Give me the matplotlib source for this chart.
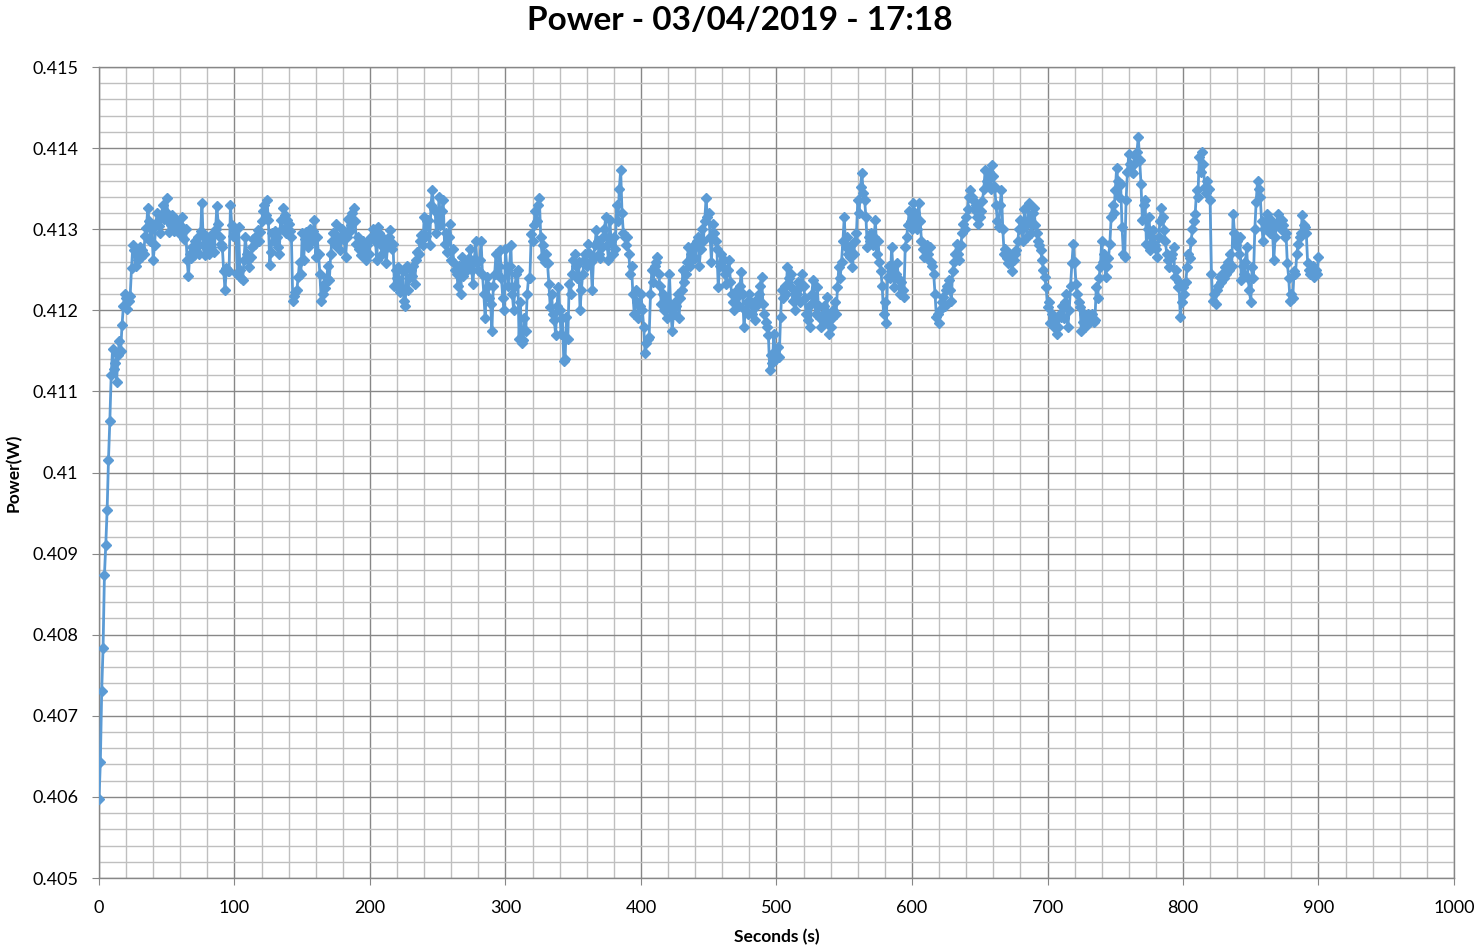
import numpy as np
import matplotlib
matplotlib.use('Agg')
import matplotlib.pyplot as plt
from matplotlib.ticker import MultipleLocator, FuncFormatter

# power readings, one per second, in mW
power_mw = [
    405.97, 406.43, 407.31, 407.84, 408.73, 409.11, 409.54, 410.16, 410.64, 411.20,
    411.52, 411.28, 411.35, 411.12, 411.45, 411.62, 411.50, 411.82, 412.05, 412.20,
    412.15, 412.02, 412.12, 412.18, 412.52, 412.80, 412.74, 412.55, 412.70, 412.62,
    412.78, 412.66, 412.74, 412.70, 412.92, 413.02, 413.26, 413.10, 412.86, 413.00,
    412.62, 412.80, 413.08, 413.20, 413.04, 412.95, 413.15, 413.30, 413.12, 413.22,
    413.38, 413.10, 412.96, 413.05, 413.18, 412.98, 413.12, 413.02, 413.10, 412.95,
    413.05, 413.15, 412.98, 412.88, 413.00, 412.62, 412.42, 412.70, 412.64, 412.78,
    412.68, 412.85, 412.72, 412.90, 412.70, 412.98, 413.32, 412.80, 412.68, 412.92,
    412.75, 412.70, 412.86, 412.78, 412.95, 412.72, 413.00, 413.28, 413.07, 412.90,
    412.82, 412.78, 412.49, 412.25, 412.52, 412.48, 412.49, 413.30, 413.05, 412.92,
    412.93, 413.00, 412.45, 413.03, 412.50, 412.40, 412.37, 412.62, 412.90, 412.70,
    412.62, 412.53, 412.66, 412.78, 412.88, 412.82, 412.92, 412.99, 412.85, 412.96,
    413.10, 413.23, 413.30, 413.18, 413.36, 413.11, 412.56, 412.72, 412.95, 412.86,
    412.98, 412.90, 412.78, 412.70, 413.11, 413.00, 413.26, 413.18, 412.95, 413.11,
    413.07, 412.98, 412.90, 412.12, 412.18, 412.22, 412.25, 412.41, 412.60, 412.45,
    412.95, 412.62, 412.88, 412.96, 412.78, 412.92, 413.00, 412.85, 412.98, 413.11,
    412.66, 412.90, 412.70, 412.45, 412.12, 412.20, 412.33, 412.28, 412.40, 412.55,
    412.37, 412.70, 412.86, 412.95, 412.80, 413.07, 412.92, 412.85, 412.74, 413.00,
    412.88, 412.95, 412.66, 412.90, 413.13, 412.98, 413.05, 413.20, 413.26, 413.10,
    412.82, 412.90, 412.75, 412.68, 412.78, 412.85, 412.72, 412.62, 412.80, 412.70,
    412.88, 412.90, 413.00, 412.92, 412.85, 412.62, 413.03, 412.95, 412.80, 412.70,
    412.88, 412.75, 412.58, 412.80, 412.90, 412.99, 412.75, 412.82, 412.30, 412.50,
    412.40, 412.53, 412.22, 412.25, 412.48, 412.12, 412.05, 412.55, 412.25, 412.40,
    412.50, 412.42, 412.55, 412.33, 412.62, 412.72, 412.70, 412.85, 412.93, 412.80,
    413.15, 412.92, 413.10, 413.11, 412.80, 413.30, 413.48, 413.25, 413.23, 412.95,
    413.10, 413.40, 413.05, 413.22, 413.36, 412.82, 412.95, 412.72, 412.90, 413.07,
    412.62, 412.75, 412.58, 412.50, 412.45, 412.30, 412.55, 412.20, 412.66, 412.42,
    412.60, 412.48, 412.53, 412.65, 412.75, 412.50, 412.33, 412.62, 412.85, 412.58,
    412.50, 412.62, 412.86, 412.45, 412.20, 411.90, 412.41, 412.30, 412.15, 412.08,
    411.75, 412.30, 412.45, 412.70, 412.45, 412.55, 412.74, 412.40, 412.15, 412.00,
    412.75, 412.53, 412.30, 412.55, 412.80, 412.20, 412.00, 412.30, 412.45, 412.50,
    411.65, 412.10, 411.60, 411.63, 411.90, 411.75, 412.20, 412.40, 412.40, 412.94,
    412.85, 413.05, 413.23, 413.10, 413.30, 413.38, 412.90, 412.66, 412.80, 412.60,
    412.70, 412.58, 412.33, 412.04, 412.20, 411.95, 411.88, 411.70, 412.05, 412.29,
    412.00, 411.71, 411.90, 411.38, 411.40, 411.92, 411.65, 412.33, 412.20, 412.45,
    412.62, 412.70, 412.55, 412.40, 412.60, 412.00, 412.25, 412.45, 412.62, 412.70,
    412.55, 412.82, 412.70, 412.60, 412.25, 412.65, 412.80, 412.99, 412.85, 412.70,
    412.65, 412.78, 412.90, 413.00, 413.15, 412.80, 412.62, 413.11, 412.85, 412.70,
    412.90, 412.75, 413.30, 413.10, 413.50, 413.73, 413.20, 412.95, 412.90, 412.80,
    412.90, 412.70, 412.45, 412.55, 412.20, 411.96, 412.25, 412.10, 411.90, 412.05,
    412.20, 412.00, 411.80, 411.47, 411.60, 411.65, 411.67, 412.20, 412.50, 412.35,
    412.55, 412.60, 412.66, 412.45, 412.30, 412.08, 412.20, 412.00, 412.15, 411.90,
    412.10, 412.45, 412.00, 411.75, 411.95, 412.10, 412.05, 412.20, 411.90, 412.15,
    412.25, 412.50, 412.35, 412.45, 412.60, 412.78, 412.55, 412.70, 412.62, 412.80,
    412.65, 412.85, 412.90, 412.55, 412.75, 413.00, 412.85, 413.10, 413.38, 413.15,
    413.20, 412.90, 412.60, 413.07, 412.95, 412.85, 412.75, 412.29, 412.55, 412.70,
    412.55, 412.62, 412.45, 412.33, 412.50, 412.62, 412.35, 412.20, 412.10, 412.00,
    412.15, 412.25, 412.05, 412.30, 412.47, 412.20, 411.79, 412.00, 412.10, 411.95,
    412.20, 412.10, 411.95, 412.05, 411.88, 412.05, 412.15, 412.20, 412.30, 412.41,
    412.08, 411.95, 411.85, 411.79, 411.70, 411.26, 411.45, 411.35, 411.71, 411.50,
    411.40, 411.55, 411.42, 411.92, 412.25, 412.15, 412.30, 412.20, 412.53, 412.40,
    412.30, 412.45, 412.12, 412.25, 412.00, 412.20, 412.35, 412.10, 412.30, 412.45,
    412.30, 412.15, 411.95, 411.88, 412.05, 411.80, 412.20, 412.37, 412.10, 411.95,
    412.29, 412.05, 411.90, 411.79, 411.95, 412.05, 411.85, 412.16, 411.95, 411.71,
    411.80, 411.90, 412.00, 412.10, 411.95, 412.29, 412.53, 412.40, 412.60, 412.85,
    413.15, 412.78, 412.90, 412.70, 412.66, 412.80, 412.53, 412.70, 412.85, 412.95,
    413.36, 413.20, 413.52, 413.69, 413.45, 413.36, 413.15, 412.78, 412.90, 412.85,
    412.95, 412.80, 412.90, 413.11, 412.70, 412.85, 412.60, 412.49, 412.30, 411.96,
    412.10, 411.84, 412.41, 412.55, 412.40, 412.78, 412.50, 412.29, 412.45, 412.58,
    412.40, 412.20, 412.35, 412.25, 412.16, 412.78, 412.90, 413.05, 413.23, 413.10,
    413.00, 413.32, 413.20, 413.05, 413.00, 413.32, 413.10, 412.86, 412.75, 412.66,
    412.66, 412.80, 412.70, 412.78, 412.60, 412.55, 412.45, 412.20, 411.92, 411.95,
    411.84, 412.00, 412.10, 412.16, 412.05, 412.25, 412.30, 412.37, 412.25, 412.12,
    412.49, 412.60, 412.70, 412.82, 412.70, 412.62, 412.80, 412.95, 413.07, 413.00,
    413.15, 413.25, 413.40, 413.48, 413.40, 413.36, 413.25, 413.30, 413.15, 413.07,
    413.15, 413.23, 413.35, 413.50, 413.73, 413.60, 413.56, 413.70, 413.50, 413.79,
    413.65, 413.52, 413.30, 413.10, 413.03, 413.30, 413.48, 413.00, 412.70, 412.75,
    412.65, 412.58, 412.70, 412.60, 412.49, 412.62, 412.70, 412.74, 412.85, 413.00,
    413.11, 413.00, 412.85, 413.25, 413.05, 412.90, 413.32, 413.10, 412.95, 413.20,
    413.26, 413.05, 412.95, 412.85, 412.80, 412.74, 412.62, 412.50, 412.41, 412.29,
    412.04, 412.10, 411.84, 411.95, 411.85, 411.79, 411.90, 411.71, 411.80, 411.95,
    411.92, 412.05, 411.90, 412.10, 412.20, 411.79, 412.00, 412.30, 412.58, 412.82,
    412.60, 412.33, 412.20, 412.10, 412.04, 411.75, 411.85, 411.95, 411.80, 411.88,
    411.95, 411.85, 411.90, 411.96, 411.85, 411.88, 412.29, 412.15, 412.40, 412.53,
    412.86, 412.60, 412.70, 412.41, 412.55, 412.65, 412.82, 413.15, 413.30, 413.20,
    413.48, 413.75, 413.60, 413.40, 413.56, 413.03, 412.70, 412.66, 413.36, 413.70,
    413.93, 413.81, 413.70, 413.69, 413.80, 413.89, 413.95, 414.14, 413.85, 413.56,
    413.11, 413.30, 413.36, 412.82, 413.00, 413.15, 412.74, 412.90, 412.99, 412.80,
    412.75, 412.66, 412.90, 413.10, 413.26, 413.15, 412.99, 412.85, 412.70, 412.62,
    412.53, 412.65, 412.70, 412.78, 412.41, 412.50, 412.29, 412.35, 411.92, 412.10,
    412.29, 412.20, 412.35, 412.53, 412.70, 412.65, 412.86, 413.00, 413.10, 413.19,
    413.48, 413.40, 413.89, 413.70, 413.95, 413.80, 413.52, 413.45, 413.60, 413.50,
    413.36, 412.45, 412.12, 412.20, 412.08, 412.25, 412.30, 412.41, 412.35, 412.45,
    412.40, 412.53, 412.45, 412.60, 412.50, 412.70, 412.55, 413.19, 412.95, 412.80,
    412.85, 412.70, 412.90, 412.37, 412.55, 412.45, 412.60, 412.78, 412.40, 412.25,
    412.10, 412.53, 412.40, 413.00, 413.34, 413.60, 413.50, 413.40, 413.10, 412.86,
    413.00, 413.10, 413.19, 413.05, 412.95, 413.11, 413.00, 412.62, 412.90, 413.05,
    413.19, 413.10, 413.00, 413.11, 413.05, 412.90, 412.95, 412.58, 412.40, 412.12,
    412.20, 412.15, 412.49, 412.45, 412.70, 412.82, 412.90, 412.95, 413.17, 413.05,
    413.03, 412.95, 412.58, 412.50, 412.45, 412.49, 412.55, 412.41, 412.50, 412.45,
    412.66,
]
seconds = np.arange(len(power_mw))
power_w = np.array(power_mw) / 1000.0

x_ticks = np.arange(0, 1001, 100)
y_ticks = np.arange(0.405, 0.41501, 0.001)

plt.rcParams['font.family'] = ['Lato', 'DejaVu Sans']

fig = plt.figure(figsize=(14.79, 9.52), dpi=100)
ax = fig.add_axes([99 / 1479, 1 - 878 / 952, (1454 - 99) / 1479, (878 - 67) / 952])

ax.plot(seconds, power_w, color='#5B9BD5', linewidth=2, marker='D',
        markersize=5.5, markeredgecolor='#5B9BD5', zorder=3)

ax.set_xlim(0, 1000)
ax.set_ylim(0.405, 0.415)
ax.set_xticks(x_ticks)
ax.set_yticks(y_ticks)
ax.xaxis.set_minor_locator(MultipleLocator(20))
ax.yaxis.set_minor_locator(MultipleLocator(0.0002))
ax.yaxis.set_major_formatter(FuncFormatter(lambda v, p: ('%.3f' % v).rstrip('0')))

ax.grid(which='major', color='#878787', linewidth=1)
ax.grid(which='minor', color='#bfbfbf', linewidth=1)
ax.set_axisbelow(True)
for side in ['top', 'right', 'left', 'bottom']:
    ax.spines[side].set_color('#878787')
    ax.spines[side].set_linewidth(1)

ax.tick_params(which='major', length=5, color='#878787', labelsize=13,
               labelcolor='black')
ax.tick_params(which='minor', length=0)
ax.tick_params(axis='x', pad=11)
ax.tick_params(axis='y', pad=10)

ax.set_xlabel('Seconds (s)', fontsize=12.5, fontweight='bold')
ax.set_ylabel('Power(W)', fontsize=12.5, fontweight='bold')
# label positions in axes fractions (x label centred at ~937px, y label at ~15px)
ax.xaxis.set_label_coords(0.5, -0.063)
ax.yaxis.set_label_coords(-0.057, 0.5)
fig.text(0.5, 0.978, 'Power - 03/04/2019 - 17:18', ha='center', va='center',
         fontsize=24, fontweight='bold')

fig.savefig('out.png', dpi=100)
